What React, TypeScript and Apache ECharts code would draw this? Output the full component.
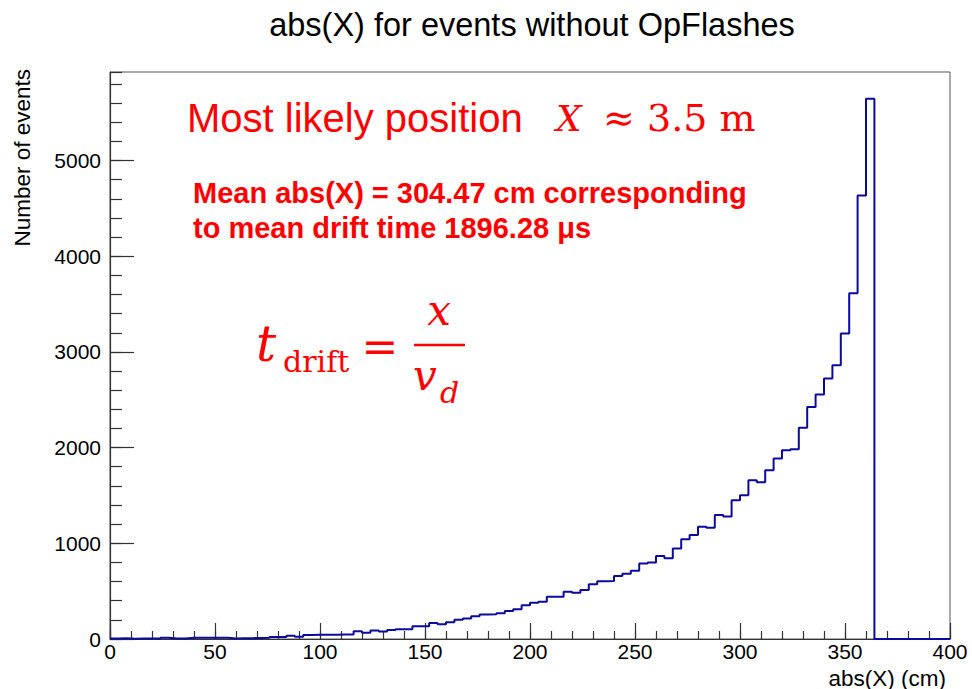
import React, { useEffect, useRef } from 'react';
import * as echarts from 'echarts';

// Histogram definition: 100 bins of 4 cm from 0 to 400 cm
const xMin = 0;
const xMax = 400;
const binWidth = 4;
const yMax = 5925;

// Bin contents (events per 4 cm bin)
const counts: number[] = [
  5, 8, 3, 4, 5, 4, 12, 6, 5, 12,
  14, 13, 14, 13, 6, 8, 9, 10, 12, 20,
  22, 35, 24, 42, 45, 44, 45, 47, 46, 80,
  65, 90, 78, 94, 102, 103, 132, 134, 168, 155,
  174, 200, 214, 238, 256, 258, 268, 292, 311, 353,
  379, 390, 442, 442, 494, 484, 512, 572, 604, 606,
  659, 682, 713, 790, 800, 868, 845, 947, 1042, 1086,
  1173, 1162, 1295, 1280, 1451, 1503, 1658, 1638, 1764, 1886,
  1973, 1984, 2208, 2425, 2555, 2722, 2860, 3193, 3612, 4635,
  5645, 0, 0, 0, 0, 0, 0, 0, 0, 0,
];

const xMajor = 50;
const xMinor = 10;
const yMajorStep = 1000;
const yMinorStep = 200;

const titleText = 'abs(X) for events without OpFlashes';
const xTitle = 'abs(X) (cm)';
const yTitle = 'Number of events';

const SANS = 'Liberation Sans, Arial, Helvetica, sans-serif';
const SERIF = 'DejaVu Serif, serif';
const RED = '#ff0000';

export default function App() {
  const ref = useRef<HTMLDivElement>(null);

  useEffect(() => {
    if (!ref.current) return;
    const chart = echarts.init(ref.current, undefined, { renderer: 'svg' });

    const stepData: [number, number][] = [];
    counts.forEach((c, i) => {
      const x0 = xMin + i * binWidth;
      stepData.push([x0, c], [x0 + binWidth, c]);
    });

    const axisCol = '#333';
    const commonX = {
      type: 'value' as const,
      min: xMin,
      max: xMax,
      position: 'bottom' as const,
      splitLine: { show: false },
    };
    const commonY = {
      type: 'value' as const,
      min: 0,
      max: yMax,
      position: 'left' as const,
      splitLine: { show: false },
    };

    chart.setOption({
      animation: false,
      backgroundColor: '#ffffff',
      title: {
        text: titleText,
        left: 527,
        top: 3,
        textAlign: 'center',
        textStyle: { fontFamily: SANS, fontSize: 32.5, fontWeight: 'normal', color: '#000' },
      },
      grid: {
        left: 110,
        right: 22,
        top: 72,
        bottom: 50,
        show: true,
        borderColor: '#555',
        borderWidth: 1,
        backgroundColor: 'transparent',
      },
      xAxis: [
        {
          ...commonX,
          interval: xMajor,
          axisLine: { show: true, lineStyle: { color: axisCol, width: 1.2 } },
          axisTick: { show: true, inside: true, length: 16, lineStyle: { color: axisCol, width: 1.2 } },
          axisLabel: { fontFamily: SANS, fontSize: 21, color: '#000', margin: 2, formatter: (v: number) => String(v) },
        },
        {
          ...commonX,
          interval: xMinor,
          axisLine: { show: false },
          axisTick: { show: true, inside: true, length: 8, lineStyle: { color: axisCol, width: 1.2 } },
          axisLabel: { show: false },
        },
      ],
      yAxis: [
        {
          ...commonY,
          interval: yMajorStep,
          axisLine: { show: true, lineStyle: { color: axisCol, width: 1.2 } },
          axisTick: { show: true, inside: true, length: 24, lineStyle: { color: axisCol, width: 1.2 } },
          axisLabel: {
            fontFamily: SANS, fontSize: 21, color: '#000', margin: 9, showMaxLabel: false,
            formatter: (v: number) => String(v),
          },
        },
        {
          ...commonY,
          interval: yMinorStep,
          axisLine: { show: false },
          axisTick: { show: true, inside: true, length: 12, lineStyle: { color: axisCol, width: 1.2 } },
          axisLabel: { show: false },
        },
      ],
      series: [
        {
          type: 'line',
          xAxisIndex: 0,
          yAxisIndex: 0,
          data: stepData,
          symbol: 'none',
          lineStyle: { color: '#0a0a9e', width: 2 },
          z: 5,
        },
      ],
      graphic: [
        {
          type: 'text', x: 946, y: 678, z: 10,
          style: { text: xTitle, fontFamily: SANS, fontSize: 22.5, fill: '#000', align: 'right', verticalAlign: 'middle' },
        },
        {
          type: 'text', x: 22, y: 69, rotation: Math.PI / 2, z: 10,
          style: { text: yTitle, fontFamily: SANS, fontSize: 22.5, fill: '#000', align: 'right', verticalAlign: 'middle' },
        },
        {
          type: 'text', x: 187, y: 118, z: 10,
          style: { text: 'Most likely position', fontFamily: SANS, fontSize: 40, fill: RED, align: 'left', verticalAlign: 'middle' },
        },
        {
          type: 'text', x: 556, y: 118, z: 10,
          style: { text: 'X', fontFamily: SERIF, fontStyle: 'italic', fontSize: 36, fill: RED, align: 'left', verticalAlign: 'middle' },
        },
        {
          type: 'text', x: 603, y: 118, z: 10,
          style: { text: '≈', fontFamily: SERIF, fontSize: 38, fill: RED, align: 'left', verticalAlign: 'middle' },
        },
        {
          type: 'text', x: 647, y: 118, z: 10,
          style: { text: '3.5 m', fontFamily: SERIF, fontSize: 38, fill: RED, align: 'left', verticalAlign: 'middle' },
        },
        {
          type: 'text', x: 193, y: 193, z: 10,
          style: { text: 'Mean abs(X) = 304.47 cm corresponding', fontFamily: SANS, fontWeight: 'bold', fontSize: 29, fill: RED, align: 'left', verticalAlign: 'middle' },
        },
        {
          type: 'text', x: 193, y: 228, z: 10,
          style: { text: 'to mean drift time 1896.28 μs', fontFamily: SANS, fontWeight: 'bold', fontSize: 29, fill: RED, align: 'left', verticalAlign: 'middle' },
        },
        // formula t_drift = x / v_d
        {
          type: 'text', x: 256, y: 344, z: 10,
          style: { text: 't', fontFamily: SERIF, fontStyle: 'italic', fontSize: 50, fill: RED, align: 'left', verticalAlign: 'middle' },
        },
        {
          type: 'text', x: 283, y: 361, z: 10,
          style: { text: 'drift', fontFamily: SERIF, fontSize: 30, fill: RED, align: 'left', verticalAlign: 'middle' },
        },
        {
          type: 'text', x: 380, y: 346, z: 10,
          style: { text: '=', fontFamily: SERIF, fontSize: 44, fill: RED, align: 'center', verticalAlign: 'middle' },
        },
        {
          type: 'line', z: 10,
          shape: { x1: 414, y1: 345, x2: 465, y2: 345 },
          style: { stroke: RED, lineWidth: 2.5 },
        },
        {
          type: 'text', x: 439, y: 310, z: 10,
          style: { text: 'x', fontFamily: SERIF, fontStyle: 'italic', fontSize: 42, fill: RED, align: 'center', verticalAlign: 'middle' },
        },
        {
          type: 'text', x: 413, y: 375, z: 10,
          style: { text: 'v', fontFamily: SERIF, fontStyle: 'italic', fontSize: 42, fill: RED, align: 'left', verticalAlign: 'middle' },
        },
        {
          type: 'text', x: 440, y: 392, z: 10,
          style: { text: 'd', fontFamily: SERIF, fontStyle: 'italic', fontSize: 30, fill: RED, align: 'left', verticalAlign: 'middle' },
        },
      ],
    });

    return () => chart.dispose();
  }, []);

  return (
    <div
      ref={ref}
      style={{ position: 'fixed', left: 0, top: 0, width: 972, height: 689, background: '#fff' }}
    />
  );
}
